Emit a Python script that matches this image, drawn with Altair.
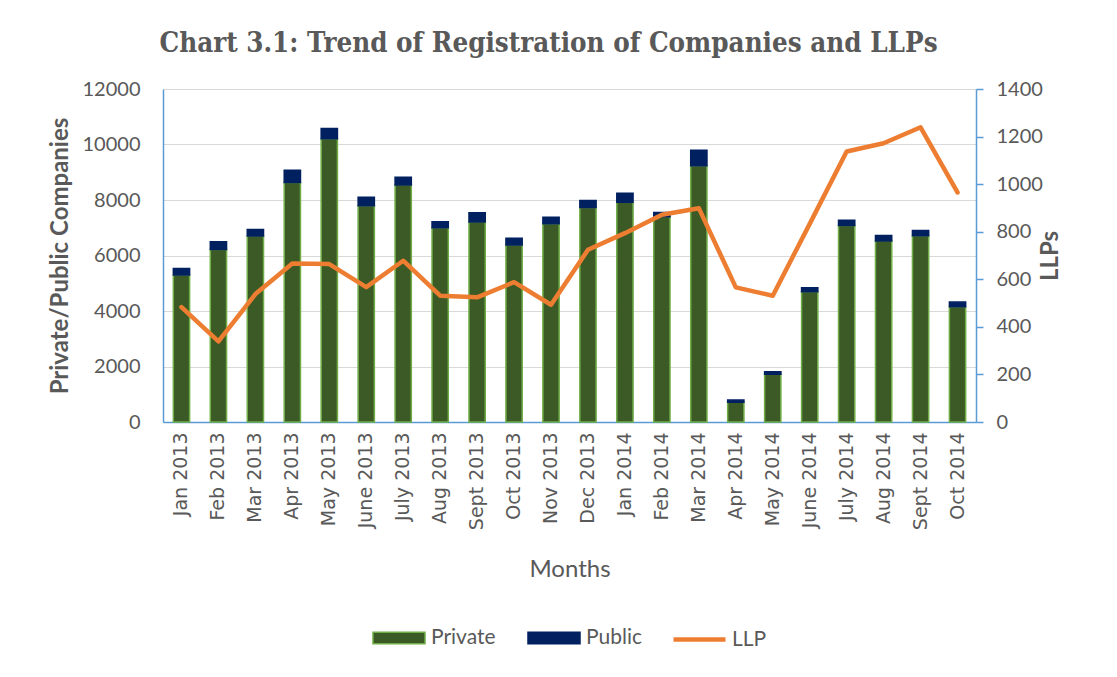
import altair as alt
import pandas as pd

months = ["Jan 2013", "Feb 2013", "Mar 2013", "Apr 2013", "May 2013", "June 2013",
          "July 2013", "Aug 2013", "Sept 2013", "Oct 2013", "Nov 2013", "Dec 2013",
          "Jan 2014", "Feb 2014", "Mar 2014", "Apr 2014", "May 2014", "June 2014",
          "July 2014", "Aug 2014", "Sept 2014", "Oct 2014"]
private = [5300, 6220, 6700, 8630, 10210, 7790, 8540, 7000, 7210, 6380, 7140, 7730,
           7920, 7400, 9230, 710, 1720, 4690, 7080, 6520, 6710, 4150]
public = [230, 280, 240, 440, 370, 310, 280, 220, 330, 240, 240, 250,
          320, 150, 560, 80, 90, 150, 190, 200, 190, 170]
llp = [483, 339, 538, 666, 664, 567, 678, 531, 524, 588, 493, 724,
       794, 871, 899, 566, 531, 833, 1137, 1172, 1239, 965]

left_ticks = [0, 2000, 4000, 6000, 8000, 10000, 12000]
right_ticks = [0, 200, 400, 600, 800, 1000, 1200, 1400]

rows = []
for m, p, q in zip(months, private, public):
    rows.append({"Month": m, "Type": "Private", "Count": p, "ord": 0})
    rows.append({"Month": m, "Type": "Public", "Count": q, "ord": 1})
bars_df = pd.DataFrame(rows)
llp_df = pd.DataFrame({"Month": months, "LLP": llp, "Series": ["LLP"] * len(months)})

GRAY = "#595959"
BLUE = "#5B9BD5"

x_enc = alt.X(
    "Month:N", sort=months,
    scale=alt.Scale(paddingInner=0.56, paddingOuter=0.28),
    axis=alt.Axis(title="Months", labelAngle=-90, labelFont="DejaVu Sans", labelFontSize=19,
                  labelColor=GRAY, labelPadding=10, titleFont="Lato", titleFontSize=24,
                  titleFontWeight="normal", titleColor=GRAY, titlePadding=28,
                  domainColor=BLUE, domainWidth=1.5, ticks=False, grid=False,
                  labelAlign="right", labelBaseline="middle"),
)

bar_legend = alt.Legend(
    title=None, orient="none", legendX=209, legendY=522, direction="horizontal",
    symbolType="M-1,-0.22H1V0.22H-1Z", symbolSize=2704, symbolStrokeWidth=1.5,
    labelFont="Lato", labelFontSize=21, labelColor=GRAY, labelOffset=5,
    columnPadding=29, padding=0,
)

bars = alt.Chart(bars_df).mark_bar(strokeWidth=1.5).encode(
    x=x_enc,
    y=alt.Y("Count:Q", stack="zero", scale=alt.Scale(domain=[0, 12000]),
            axis=alt.Axis(values=left_ticks, format="d", title="Private/Public Companies",
                          orient="left",
                          labelFont="Lato", labelFontSize=20, labelColor=GRAY, labelPadding=23,
                          ticks=False, domainColor=BLUE, domainWidth=1.5,
                          gridColor="#D9D9D9", gridWidth=1.2,
                          titleFont="Lato", titleFontSize=24, titleFontWeight="bold",
                          titleColor=GRAY, titlePadding=10)),
    color=alt.Color("Type:N", scale=alt.Scale(domain=["Private", "Public"],
                                              range=["#3B5A25", "#002060"]),
                    legend=bar_legend),
    stroke=alt.Stroke("Type:N", scale=alt.Scale(domain=["Private", "Public"],
                                                range=["#70AD47", "#002060"]),
                      legend=bar_legend),
    order=alt.Order("ord:Q"),
)

line = alt.Chart(llp_df).mark_line(strokeWidth=4.5, strokeCap="round", strokeJoin="round").encode(
    x=x_enc,
    y=alt.Y("LLP:Q", scale=alt.Scale(domain=[0, 1400]),
            axis=alt.Axis(values=right_ticks, format="d", title="LLPs", orient="right", grid=False,
                          ticks=True, tickSize=7, tickColor=BLUE, tickWidth=1.5,
                          domainColor=BLUE, domainWidth=1.5,
                          labelFont="Lato", labelFontSize=20, labelColor=GRAY, labelPadding=13,
                          titleFont="Lato", titleFontSize=24, titleFontWeight="bold",
                          titleColor=GRAY, titlePadding=20, titleAngle=270)),
    stroke=alt.Stroke("Series:N", scale=alt.Scale(domain=["LLP"], range=["#ED7D31"]),
                      legend=alt.Legend(title=None, orient="none", legendX=508, legendY=522,
                                        direction="horizontal", symbolType="stroke",
                                        symbolSize=2704, symbolStrokeWidth=4.5,
                                        labelFont="Lato", labelFontSize=21, labelColor=GRAY,
                                        labelOffset=4, padding=0)),
)

chart = alt.layer(bars, line).resolve_scale(
    y="independent", stroke="independent", color="independent"
).resolve_legend(
    stroke="independent", color="independent"
).properties(
    width=813, height=333,
    padding={"left": 155, "top": 81, "right": 125, "bottom": 240},
    autosize=alt.AutoSizeParams(type="none"),
    title=alt.TitleParams(
        "Chart 3.1: Trend of Registration of Companies and LLPs",
        font="DejaVu Serif Condensed, DejaVu Serif", fontSize=27.5, fontWeight="bold",
        color=GRAY, anchor="middle", dx=-21, offset=22,
    ),
).configure_view(stroke=None)

chart.save("out.html", embed_options={"renderer": "svg", "actions": False})
